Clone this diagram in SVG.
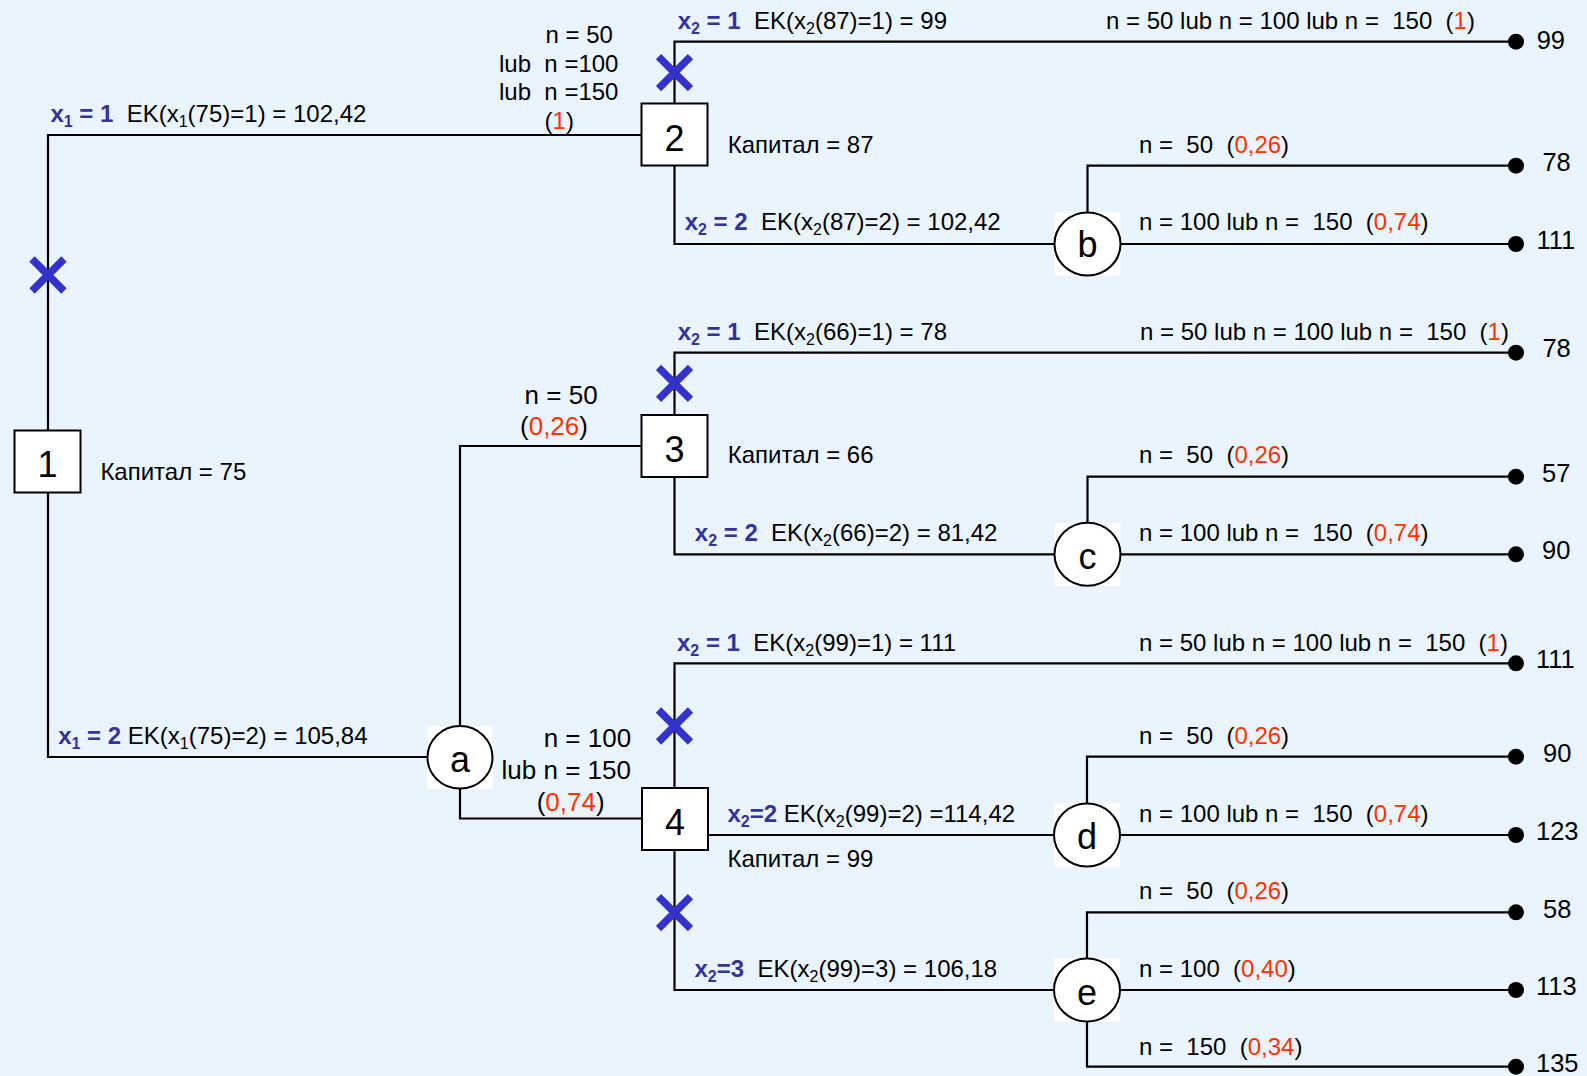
<svg xmlns="http://www.w3.org/2000/svg" xmlns:xlink="http://www.w3.org/1999/xlink" width="1587" height="1076" viewBox="0 0 1587 1076">
  <style>
    text { font-family: "Liberation Sans", Arial, sans-serif; font-size: 24px; fill: #000; white-space: pre; }
    .v { font-weight: bold; fill: #333399; }
    .sub { font-size: 16px; }
    .r { fill: #FF3300; }
    .big { font-size: 26px; }
    .val { font-size: 25.5px; }
    .node-label { font-size: 36px; text-anchor: middle; }
    .box { fill: #fff; stroke: #000; stroke-width: 2; }
    .chance { fill: #fff; stroke: #000; stroke-width: 2; }
    .chance-bg { fill: #fff; }
    .edge { fill: none; stroke: #000; stroke-width: 2.2; }
    .leaf { fill: #000; }
    .cut { fill: none; stroke: #3333CC; stroke-width: 7.5; }
  </style>
  <defs>
    <path id="cross" class="cut" d="M-16,-16 L16,16 M16,-16 L-16,16"/>
  </defs>

  <rect width="1587" height="1076" fill="#EAF4FF"/>

  <!-- connectors -->
  <g id="connectors">
    <path class="edge" d="M48,430 V135 H641.5"/>
    <path class="edge" d="M48,493 V757 H427.5"/>
    <path class="edge" d="M460,726 V446 H641.5"/>
    <path class="edge" d="M460,788.5 V818.5 H642"/>

    <path class="edge" d="M674.5,103.5 V41.7 H1516"/>
    <path class="edge" d="M674.5,165.5 V244 H1054.5"/>
    <path class="edge" d="M1120.5,244 H1516"/>
    <path class="edge" d="M1087.5,212.5 V165.7 H1516"/>

    <path class="edge" d="M674.5,415 V352.7 H1516"/>
    <path class="edge" d="M674.5,477 V554.3 H1054.5"/>
    <path class="edge" d="M1120.5,554.3 H1516"/>
    <path class="edge" d="M1087.5,523 V476.7 H1516"/>

    <path class="edge" d="M674.5,788 V663.3 H1516"/>
    <path class="edge" d="M674.5,850 V990 H1054"/>
    <path class="edge" d="M708,835 H1054"/>
    <path class="edge" d="M1120,835 H1516"/>
    <path class="edge" d="M1087,803.5 V756.7 H1516"/>
    <path class="edge" d="M1120,990 H1516"/>
    <path class="edge" d="M1087,958.5 V912.3 H1516"/>
    <path class="edge" d="M1087,1021.5 V1066.7 H1516"/>

    <!-- rejected decisions -->
    <use xlink:href="#cross" x="48" y="275"/>
    <use xlink:href="#cross" x="674.5" y="72.7"/>
    <use xlink:href="#cross" x="674.5" y="383.3"/>
    <use xlink:href="#cross" x="674.5" y="726"/>
    <use xlink:href="#cross" x="674.5" y="912.7"/>
  </g>

  <!-- decision nodes -->
  <g id="node-1">
    <rect class="box" x="14.5" y="430.5" width="66" height="62"/>
    <text class="node-label" x="47.5" y="476.5">1</text>
    <text x="100.4" y="480">Капитал = 75</text>
  </g>
  <g id="node-2">
    <rect class="box" x="641.5" y="103.5" width="66" height="62"/>
    <text class="node-label" x="674.5" y="150.5">2</text>
    <text x="727.7" y="152.7">Капитал = 87</text>
  </g>
  <g id="node-3">
    <rect class="box" x="641.5" y="415" width="66" height="62"/>
    <text class="node-label" x="674.5" y="462">3</text>
    <text x="727.7" y="463.3">Капитал = 66</text>
  </g>
  <g id="node-4">
    <rect class="box" x="642" y="788" width="66" height="62"/>
    <text class="node-label" x="675" y="835">4</text>
    <text x="727.5" y="866.7">Капитал = 99</text>
  </g>

  <!-- chance nodes -->
  <g id="node-a">
    <rect class="chance-bg" x="427.5" y="726" width="65" height="63"/>
    <ellipse class="chance" cx="460" cy="757.3" rx="32.5" ry="31.3"/>
    <text class="node-label" x="460" y="771.5">a</text>
  </g>
  <g id="node-b">
    <rect class="chance-bg" x="1054.5" y="212.5" width="66" height="63"/>
    <ellipse class="chance" cx="1087.5" cy="244" rx="33" ry="31.5"/>
    <text class="node-label" x="1087.5" y="257">b</text>
  </g>
  <g id="node-c">
    <rect class="chance-bg" x="1054.5" y="523" width="66" height="63"/>
    <ellipse class="chance" cx="1087.5" cy="554.3" rx="33" ry="31.5"/>
    <text class="node-label" x="1087.5" y="568.5">c</text>
  </g>
  <g id="node-d">
    <rect class="chance-bg" x="1054" y="803.5" width="66" height="63"/>
    <ellipse class="chance" cx="1087" cy="835" rx="33" ry="31.5"/>
    <text class="node-label" x="1087" y="848.5">d</text>
  </g>
  <g id="node-e">
    <rect class="chance-bg" x="1054" y="958.5" width="66" height="63"/>
    <ellipse class="chance" cx="1087" cy="990" rx="33" ry="31.5"/>
    <text class="node-label" x="1087" y="1005">e</text>
  </g>

  <!-- branch labels -->
  <g id="labels">
    <text x="50.4" y="122"><tspan class="v">x<tspan class="sub" dy="5">1</tspan><tspan dy="-5"> = 1</tspan></tspan>  EK(x<tspan class="sub" dy="5">1</tspan><tspan dy="-5">(75)=1) = 102,42</tspan></text>
    <text x="58.2" y="744"><tspan class="v">x<tspan class="sub" dy="5">1</tspan><tspan dy="-5"> = 2</tspan></tspan> EK(x<tspan class="sub" dy="5">1</tspan><tspan dy="-5">(75)=2) = 105,84</tspan></text>

    <text x="545.5" y="43.3">n = 50</text>
    <text x="499" y="72.3">lub  n =100</text>
    <text x="499" y="100">lub  n =150</text>
    <text x="544.6" y="128.5">(<tspan class="r">1</tspan>)</text>

    <text class="big" x="524.6" y="404">n = 50</text>
    <text class="big" x="520" y="435">(<tspan class="r">0,26</tspan>)</text>
    <text class="big" x="543.7" y="746.7">n = 100</text>
    <text class="big" x="501.6" y="779.3">lub n = 150</text>
    <text class="big" x="536.7" y="810.7">(<tspan class="r">0,74</tspan>)</text>

    <text x="677.7" y="29"><tspan class="v">x<tspan class="sub" dy="5">2</tspan><tspan dy="-5"> = 1</tspan></tspan>  EK(x<tspan class="sub" dy="5">2</tspan><tspan dy="-5">(87)=1) = 99</tspan></text>
    <text x="1106" y="29">n = 50 lub n = 100 lub n =  150  (<tspan class="r">1</tspan>)</text>
    <text x="1139" y="153.3">n =  50  (<tspan class="r">0,26</tspan>)</text>
    <text x="684.7" y="230"><tspan class="v">x<tspan class="sub" dy="5">2</tspan><tspan dy="-5"> = 2</tspan></tspan>  EK(x<tspan class="sub" dy="5">2</tspan><tspan dy="-5">(87)=2) = 102,42</tspan></text>
    <text x="1139" y="230">n = 100 lub n =  150  (<tspan class="r">0,74</tspan>)</text>

    <text x="677.7" y="340"><tspan class="v">x<tspan class="sub" dy="5">2</tspan><tspan dy="-5"> = 1</tspan></tspan>  EK(x<tspan class="sub" dy="5">2</tspan><tspan dy="-5">(66)=1) = 78</tspan></text>
    <text x="1140" y="340">n = 50 lub n = 100 lub n =  150  (<tspan class="r">1</tspan>)</text>
    <text x="1139" y="463.3">n =  50  (<tspan class="r">0,26</tspan>)</text>
    <text x="694.8" y="540.7"><tspan class="v">x<tspan class="sub" dy="5">2</tspan><tspan dy="-5"> = 2</tspan></tspan>  EK(x<tspan class="sub" dy="5">2</tspan><tspan dy="-5">(66)=2) = 81,42</tspan></text>
    <text x="1139" y="540.7">n = 100 lub n =  150  (<tspan class="r">0,74</tspan>)</text>

    <text x="677" y="650.7"><tspan class="v">x<tspan class="sub" dy="5">2</tspan><tspan dy="-5"> = 1</tspan></tspan>  EK(x<tspan class="sub" dy="5">2</tspan><tspan dy="-5">(99)=1) = 111</tspan></text>
    <text x="1139" y="650.7">n = 50 lub n = 100 lub n =  150  (<tspan class="r">1</tspan>)</text>
    <text x="1139" y="744">n =  50  (<tspan class="r">0,26</tspan>)</text>
    <text x="727.5" y="821.7"><tspan class="v">x<tspan class="sub" dy="5">2</tspan><tspan dy="-5">=2</tspan></tspan> EK(x<tspan class="sub" dy="5">2</tspan><tspan dy="-5">(99)=2) =114,42</tspan></text>
    <text x="1139" y="821.7">n = 100 lub n =  150  (<tspan class="r">0,74</tspan>)</text>
    <text x="1139" y="899">n =  50  (<tspan class="r">0,26</tspan>)</text>
    <text x="694.5" y="976.7"><tspan class="v">x<tspan class="sub" dy="5">2</tspan><tspan dy="-5">=3</tspan></tspan>  EK(x<tspan class="sub" dy="5">2</tspan><tspan dy="-5">(99)=3) = 106,18</tspan></text>
    <text x="1139" y="976.7">n = 100  (<tspan class="r">0,40</tspan>)</text>
    <text x="1139" y="1055">n =  150  (<tspan class="r">0,34</tspan>)</text>
  </g>

  <!-- outcomes -->
  <g id="outcomes">
    <circle class="leaf" cx="1516" cy="41.7" r="8"/>
    <circle class="leaf" cx="1516" cy="165.7" r="8"/>
    <circle class="leaf" cx="1516" cy="244" r="8"/>
    <circle class="leaf" cx="1516" cy="352.7" r="8"/>
    <circle class="leaf" cx="1516" cy="476.7" r="8"/>
    <circle class="leaf" cx="1516" cy="554.3" r="8"/>
    <circle class="leaf" cx="1516" cy="663.3" r="8"/>
    <circle class="leaf" cx="1516" cy="756.7" r="8"/>
    <circle class="leaf" cx="1516" cy="835" r="8"/>
    <circle class="leaf" cx="1516" cy="912.3" r="8"/>
    <circle class="leaf" cx="1516" cy="990" r="8"/>
    <circle class="leaf" cx="1516" cy="1066.7" r="8"/>

    <text class="val" x="1536.7" y="48.5">99</text>
    <text class="val" x="1542.4" y="170.7">78</text>
    <text class="val" x="1536.5" y="248.5">111</text>
    <text class="val" x="1542.4" y="357">78</text>
    <text class="val" x="1542" y="481.7">57</text>
    <text class="val" x="1542" y="559.3">90</text>
    <text class="val" x="1536" y="668.3">111</text>
    <text class="val" x="1543" y="762">90</text>
    <text class="val" x="1536" y="840">123</text>
    <text class="val" x="1543" y="917.5">58</text>
    <text class="val" x="1536" y="995">113</text>
    <text class="val" x="1536" y="1072">135</text>
  </g>
</svg>
